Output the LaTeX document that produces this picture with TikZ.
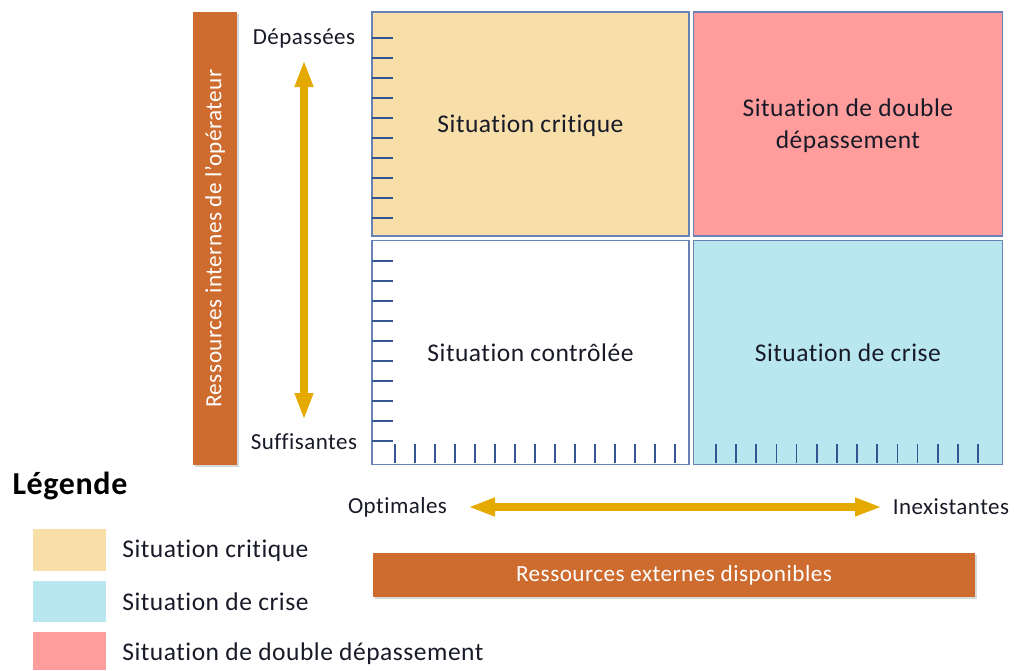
\documentclass[tikz,border=0pt]{standalone}
\usepackage{fontspec}
\setmainfont{Carlito}[LetterSpace=2, Ligatures=NoCommon]
\usetikzlibrary{positioning, arrows.meta, shadows}

\definecolor{quadtan}{RGB}{248,223,170}
\definecolor{quadpink}{RGB}{255,156,156}
\definecolor{quadblue}{RGB}{184,231,239}
\definecolor{quadline}{RGB}{104,130,182}
\definecolor{tickblue}{RGB}{52,84,146}
\definecolor{barorange}{RGB}{206,107,46}
\definecolor{arrowgold}{RGB}{228,170,0}
\definecolor{inkdark}{RGB}{24,26,40}

\tikzset{
  quad/.style={draw=quadline, line width=1.4pt, inner sep=0, align=center, text depth=0pt,
    text=inkdark, font=\fontsize{25.5}{32}\selectfont},
  bar/.style={fill=barorange, text=white, inner sep=0, font=\fontsize{23.2}{28}\selectfont,
    drop shadow={shadow xshift=1.5pt, shadow yshift=-1.5pt, opacity=0.3}},
}

\begin{document}
\begin{tikzpicture}[x=1pt, y=-1pt, node distance=3pt,
  lab/.style={inner sep=0, text=inkdark, font=\fontsize{23}{28}\selectfont},
  key/.style={minimum width=73pt, inner sep=0},
  keytext/.style={inner sep=0, text=inkdark, font=\fontsize{25.5}{30}\selectfont},
  tick/.style={draw=tickblue, line width=1.7pt},
  gold/.style={draw=arrowgold, line width=8pt,
    {Triangle[length=27pt, width=17pt]}-{Triangle[length=27pt, width=17pt]}}]
  \useasboundingbox (0,0) rectangle (1014,670);

  \node[quad, fill=quadtan, minimum width=317pt, minimum height=224pt] (tl) at (530.5,124) {Situation critique};
  \node[quad, fill=quadpink, minimum width=309pt, minimum height=224pt, right=of tl] (tr) {Situation de double\\dépassement};
  \node[quad, fill=white, minimum width=317pt, minimum height=224pt, below=of tl] (bl) {Situation contrôlée};
  \node[quad, fill=quadblue, minimum width=309pt, minimum height=224pt, below=of tr] (br) {Situation de crise};

  \foreach \y in {38,58,...,218,261,281,...,441}
    \draw[tick] (372,\y) -- ++(21,0);
  \foreach \x in {395,415,...,675}
    \draw[tick] (\x,463) -- ++(0,-19);
  \foreach \i in {0,...,13}
    \draw[tick] (716+20.15*\i,463) -- ++(0,-19);

  \node[bar, minimum width=453pt, minimum height=44pt, rotate=90] (ri) at (215,238.5) {Ressources internes de l’opérateur};
  \node[bar, minimum width=602pt, minimum height=44pt] (re) at (674,575) {Ressources externes disponibles};

  \node[lab] (dep) at (304,38) {Dépassées};
  \node[lab] (suf) at (304,442) {Suffisantes};
  \node[lab] (opt) at (397.5,507) {Optimales};
  \node[lab] (inex) at (951,507) {Inexistantes};
  \draw[gold, shorten <=22pt, shorten >=22pt] (dep.center) -- (suf.center);
  \draw[gold, shorten <=70.5pt, shorten >=69pt] (opt.center) -- (inex.center);

  \node[inner sep=0, font=\bfseries\fontsize{32}{36}\selectfont] (leg) at (70,486) {Légende};
  \node[key, fill=quadtan, minimum height=42pt] (k1) at (69.5,550) {};
  \node[key, fill=quadblue, minimum height=41pt] (k2) at (69.5,601.5) {};
  \node[key, fill=quadpink, minimum height=38pt] (k3) at (69.5,651) {};
  \node[keytext, right=16pt of k1, yshift=-1pt] (t1) {Situation critique};
  \node[keytext, right=16pt of k2] (t2) {Situation de crise};
  \node[keytext, right=16pt of k3, yshift=-3pt] (t3) {Situation de double dépassement};
\end{tikzpicture}
\end{document}
